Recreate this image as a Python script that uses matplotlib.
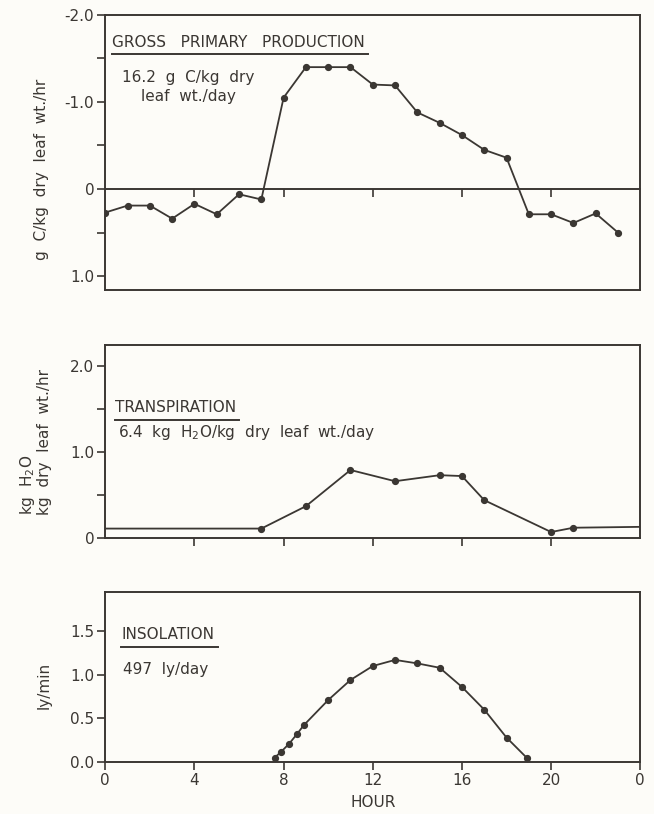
import matplotlib
matplotlib.use("Agg")
import matplotlib.pyplot as plt
from matplotlib.lines import Line2D

# ---- data ---------------------------------------------------------------
hours = list(range(24))
gpp = [0.27, 0.19, 0.19, 0.34, 0.17, 0.29, 0.06, 0.12, -1.05, -1.40, -1.40, -1.40,
       -1.20, -1.19, -0.88, -0.76, -0.62, -0.45, -0.36, 0.29, 0.29, 0.39, 0.28, 0.50]

trans_hours = [7, 9, 11, 13, 15, 16, 17, 20, 21]
trans = [0.11, 0.37, 0.79, 0.66, 0.73, 0.72, 0.44, 0.07, 0.12]
# night baseline drawn without markers
trans_start = (0, 0.11)
trans_end = (24, 0.13)

ins_hours = [7.6, 7.9, 8.25, 8.6, 8.9, 10, 11, 12, 13, 14, 15, 16, 17, 18, 18.9]
ins = [0.05, 0.12, 0.21, 0.32, 0.42, 0.71, 0.94, 1.10, 1.17, 1.13, 1.08, 0.86,
       0.60, 0.28, 0.05]

hour_ticks = [0, 4, 8, 12, 16, 20, 24]
hour_labels = ["0", "4", "8", "12", "16", "20", "0"]

gpp_ticks = [-2.0, -1.5, -1.0, -0.5, 0, 0.5, 1.0]
gpp_labels = ["-2.0", "", "-1.0", "", "0", "", "1.0"]
trans_ticks = [0, 0.5, 1.0, 1.5, 2.0]
trans_labels = ["0", "", "1.0", "", "2.0"]
ins_ticks = [0, 0.5, 1.0, 1.5]
ins_labels = ["0.0", "0.5", "1.0", "1.5"]

INK = "#3b3733"
BG = "#fdfcf8"
FS = 11

plt.rcParams["font.family"] = "DejaVu Sans"
plt.rcParams["text.color"] = INK
plt.rcParams["axes.edgecolor"] = INK
plt.rcParams["xtick.color"] = INK
plt.rcParams["ytick.color"] = INK
plt.rcParams["axes.labelcolor"] = INK

fig = plt.figure(figsize=(6.54, 8.14), dpi=100, facecolor=BG)
ax1 = fig.add_axes([0.161, 0.6437, 0.818, 0.338])
ax2 = fig.add_axes([0.161, 0.339, 0.818, 0.237])
ax3 = fig.add_axes([0.161, 0.0639, 0.818, 0.209])

line_kw = dict(color=INK, lw=1.3, marker="o", ms=4.2, mfc=INK, mec=INK)

for ax in (ax1, ax2, ax3):
    ax.set_facecolor(BG)
    ax.set_xlim(0, 24)
    for s in ax.spines.values():
        s.set_linewidth(1.4)
    ax.tick_params(axis="both", direction="out", length=6, width=1.2,
                   labelsize=FS, pad=2)

# ---- gross primary production -------------------------------------------
ax1.plot(hours, gpp, **line_kw)
ax1.set_ylim(1.16, -2.0)
ax1.set_yticks(gpp_ticks)
ax1.set_yticklabels(gpp_labels)
ax1.set_xticks([])
zero = ax1.secondary_xaxis(0, transform=ax1.transData)
zero.set_xticks(hour_ticks[1:-1])
zero.set_xticklabels([])
zero.spines["bottom"].set_linewidth(1.4)
zero.spines["bottom"].set_color(INK)
zero.tick_params(direction="out", length=6, width=1.2, color=INK)
ax1.set_ylabel("g  C/kg  dry  leaf  wt./hr", fontsize=FS)
ax1.yaxis.set_label_coords(-0.105, 0.44)
t1 = ax1.text(0.012, 0.885, "GROSS   PRIMARY   PRODUCTION", transform=ax1.transAxes,
              fontsize=FS, ha="left", va="baseline")
ax1.text(0.155, 0.80, "16.2  g  C/kg  dry\nleaf  wt./day", transform=ax1.transAxes,
         fontsize=FS, ha="center", va="top", multialignment="center",
         linespacing=1.3)

# ---- transpiration -------------------------------------------------------
ax2.plot([trans_start[0]] + trans_hours + [trans_end[0]],
         [trans_start[1]] + trans + [trans_end[1]], color=INK, lw=1.3)
ax2.plot(trans_hours, trans, ls="none", marker="o", ms=4.2, mfc=INK, mec=INK)
ax2.set_ylim(0, 2.24)
ax2.set_yticks(trans_ticks)
ax2.set_yticklabels(trans_labels)
ax2.set_xticks(hour_ticks[1:-1])
ax2.set_xticklabels([])
ax2.set_ylabel("kg  H$_2$O\nkg  dry  leaf  wt./hr", fontsize=FS,
               multialignment="left", linespacing=1.0)
ax2.yaxis.set_label_coords(-0.1, 0.5)
t2 = ax2.text(0.018, 0.655, "TRANSPIRATION", transform=ax2.transAxes,
              fontsize=FS, ha="left", va="baseline")
ax2.text(0.024, 0.525, "6.4  kg  H$_2$O/kg  dry  leaf  wt./day",
         transform=ax2.transAxes, fontsize=FS, ha="left", va="baseline")

# ---- insolation ----------------------------------------------------------
ax3.plot(ins_hours, ins, **line_kw)
ax3.set_ylim(0, 1.95)
ax3.set_yticks(ins_ticks)
ax3.set_yticklabels(ins_labels)
ax3.set_xticks(hour_ticks)
ax3.set_xticklabels(hour_labels)
ax3.set_xlabel("HOUR", fontsize=FS, labelpad=5)
ax3.set_ylabel("ly/min", fontsize=FS)
ax3.yaxis.set_label_coords(-0.1, 0.45)
t3 = ax3.text(0.03, 0.72, "INSOLATION", transform=ax3.transAxes,
              fontsize=FS, ha="left", va="baseline")
ax3.text(0.034, 0.52, "497  ly/day", transform=ax3.transAxes,
         fontsize=FS, ha="left", va="baseline")

# underline the panel titles
fig.canvas.draw()
inv = fig.transFigure.inverted()
for t in (t1, t2, t3):
    bb = t.get_window_extent().transformed(inv)
    y = bb.y0 - 0.006
    fig.add_artist(Line2D([bb.x0, bb.x1 + 0.005], [y, y], color=INK, lw=1.4,
                          transform=fig.transFigure))

fig.savefig("out.png", dpi=100, facecolor=BG)
